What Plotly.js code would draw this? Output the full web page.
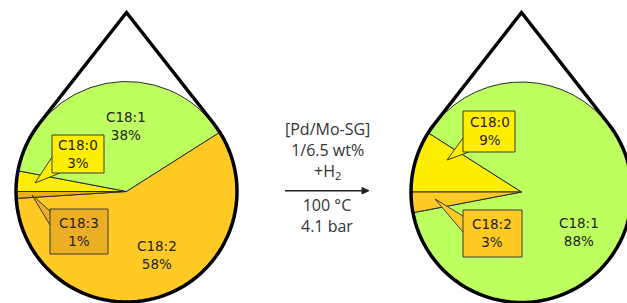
<!DOCTYPE html>
<html>
<head>
<meta charset="utf-8">
<script src="https://cdn.plot.ly/plotly-3.0.1.min.js"></script>
<style>
html,body{margin:0;padding:0;overflow:hidden;background:#fff;width:627px;height:303px;}
#chart{width:640px;height:310px;}
</style>
</head>
<body>
<div id="chart"></div>
<script>
// ---- data ----
const leftLabels = ['C18:0', 'C18:1', 'C18:2', 'C18:3'];
const leftValues = [3, 38, 58, 1];
const rightLabels = ['C18:0', 'C18:1', 'C18:2'];
const rightValues = [9, 88, 3];
const reactionTop = ['[Pd/Mo-SG]', '1/6.5 wt%', '+H<sub>2</sub>'];
const reactionBottom = ['100 °C', '4.1 bar'];

// ---- styling ----
const colorOf = {'C18:0': '#FFEE00', 'C18:1': '#BCFF5E', 'C18:2': '#FFCA24', 'C18:3': '#ECAE22'};
const W = 640, H = 310;
const X = p => p / W;
const Y = p => 1 - p / H;

const pies = [
  {labels: leftLabels, values: leftValues, cx: 126.5, cy: 191.5, R: 110, tipY: 12.5,
   text: {
     'C18:0': {x: 78, y: 154, box: [52, 135, 104, 173], tail: [[35, 183], [52, 157], [60, 173]]},
     'C18:1': {x: 126, y: 126},
     'C18:2': {x: 157, y: 254.5},
     'C18:3': {x: 79, y: 231.5, box: [50, 209, 108, 254], tail: [[32, 195], [50, 211], [50, 225]]}
   }},
  {labels: rightLabels, values: rightValues, cx: 521.5, cy: 192, R: 110, tipY: 12.5,
   text: {
     'C18:0': {x: 490, y: 131, box: [463, 111, 515, 152], tail: [[447, 160], [463, 138], [469, 152]]},
     'C18:1': {x: 579, y: 232},
     'C18:2': {x: 492, y: 233, box: [463, 210, 522, 257], tail: [[435, 199], [463, 216], [463, 232]]}
   }}
];

const traces = [];
const shapes = [];
const annotations = [];
const labelFont = {family: '"DejaVu Sans", sans-serif', size: 13.5, color: '#222'};

pies.forEach(p => {
  traces.push({
    type: 'pie', labels: p.labels, values: p.values, sort: false,
    direction: 'clockwise', rotation: -90,
    marker: {colors: p.labels.map(l => colorOf[l]), line: {color: '#2a2a2a', width: 1}},
    textinfo: 'none', hoverinfo: 'none', showlegend: false,
    domain: {x: [X(p.cx - p.R), X(p.cx + p.R)], y: [Y(p.cy + p.R), Y(p.cy - p.R)]}
  });
  // droplet outline
  const r = p.R + 0.5;
  const d = p.cy - p.tipY;
  const a = Math.acos(r / d);
  const pt = t => [p.cx + r * Math.sin(t), p.cy - r * Math.cos(t)];
  let path = 'M' + X(p.cx) + ',' + Y(p.tipY);
  const N = 90;
  for (let i = 0; i <= N; i++) {
    const t = 2 * Math.PI - a - (2 * Math.PI - 2 * a) * i / N;
    const q = pt(t);
    path += ' L' + X(q[0]) + ',' + Y(q[1]);
  }
  path += ' Z';
  shapes.push({type: 'path', xref: 'paper', yref: 'paper', path: path, layer: 'above',
               line: {color: '#000', width: 3.5}, fillcolor: 'rgba(0,0,0,0)'});
  // labels
  p.labels.forEach((lab, i) => {
    const t = p.text[lab];
    if (t.box) {
      const tl = t.tail;
      shapes.push({type: 'path', xref: 'paper', yref: 'paper', layer: 'above',
        path: 'M' + X(tl[1][0]) + ',' + Y(tl[1][1]) + ' L' + X(tl[0][0]) + ',' + Y(tl[0][1]) + ' L' + X(tl[2][0]) + ',' + Y(tl[2][1]),
        line: {color: '#3a3a3a', width: 1}, fillcolor: colorOf[lab]});
      shapes.push({type: 'rect', xref: 'paper', yref: 'paper', layer: 'above',
        x0: X(t.box[0]), x1: X(t.box[2]), y0: Y(t.box[1]), y1: Y(t.box[3]),
        line: {color: '#3a3a3a', width: 1}, fillcolor: colorOf[lab]});
    }
    annotations.push({xref: 'paper', yref: 'paper', x: X(t.x), y: Y(t.y),
      text: lab + '<br>' + p.values[i] + '%',
      showarrow: false, xanchor: 'center', yanchor: 'middle', font: labelFont});
  });
});

// reaction conditions
const midFont = {family: '"Open Sans", sans-serif', size: 16, weight: 400, color: '#333'};
annotations.push({xref: 'paper', yref: 'paper', x: X(327), y: Y(150.5), text: reactionTop.join('<br>'),
  showarrow: false, xanchor: 'center', yanchor: 'middle', font: midFont});
annotations.push({xref: 'paper', yref: 'paper', x: X(327), y: Y(215), text: reactionBottom.join('<br>'),
  showarrow: false, xanchor: 'center', yanchor: 'middle', font: midFont});
// reaction arrow
shapes.push({type: 'line', xref: 'paper', yref: 'paper', x0: X(285), x1: X(363), y0: Y(190.7), y1: Y(190.7),
  line: {color: '#222', width: 1.4}});
shapes.push({type: 'path', xref: 'paper', yref: 'paper',
  path: 'M' + X(362) + ',' + Y(187.5) + ' L' + X(369) + ',' + Y(190.7) + ' L' + X(362) + ',' + Y(193.9) + ' Z',
  line: {color: '#222', width: 1}, fillcolor: '#222'});

Plotly.newPlot('chart', traces, {
  width: W, height: H, margin: {l: 0, r: 0, t: 0, b: 0},
  paper_bgcolor: '#fff', plot_bgcolor: '#fff', showlegend: false,
  shapes: shapes, annotations: annotations
}, {staticPlot: true, displayModeBar: false});
</script>
</body>
</html>
